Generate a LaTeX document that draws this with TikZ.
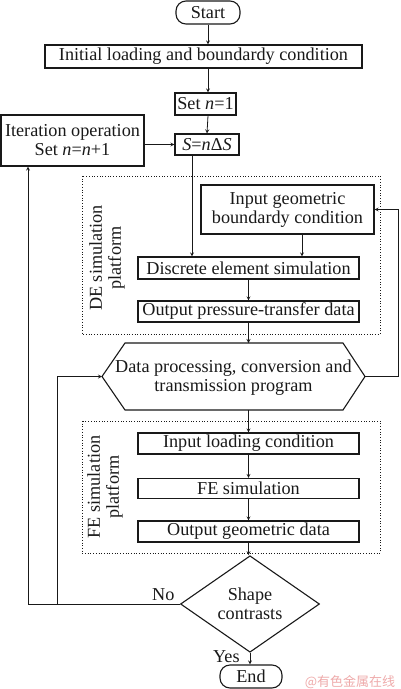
\documentclass[tikz,border=0pt]{standalone}
\usepackage{fontspec}
\setmainfont{Liberation Serif}
\newfontfamily\cjk{Noto Sans CJK SC}
\usepackage{xcolor}
\definecolor{ink}{RGB}{25,25,25}
\definecolor{wmark}{RGB}{238,170,170}
\usepackage{tikz}
\usetikzlibrary{shapes,arrows,positioning,calc}
\usetikzlibrary{shapes.geometric}

\begin{document}
\begin{tikzpicture}[x=1pt,y=-1pt,>=stealth,
        every node/.style={font=\fontsize{18.2}{19}\selectfont, inner sep=0pt, text=ink},
        box/.style={draw=ink, line width=1.1pt, minimum height=22pt, align=center},
        term/.style={box, rounded corners=10pt},
        arr/.style={draw=ink, line width=0.8pt, ->},
        line/.style={draw=ink, line width=0.8pt},
        platform/.style={draw=ink, dotted, line width=0.7pt}]
    \useasboundingbox (0,0) rectangle (400,689);

    % main column
    \node[term, minimum width=64pt, minimum height=23pt] (start) at (208,12.5) {Start};
    \node[box, minimum width=317pt, minimum height=23pt] (init) at (203.5,56.5) {Initial loading and boundardy condition};
    \node[box, minimum width=61pt] (setn) at (205.5,104) {Set \textit{n}=1};
    \node[box, minimum width=64pt, minimum height=21pt] (sval) at (207,144.5) {\textit{S}=\textit{n}Δ\textit{S}};
    \node[box, minimum width=143pt, minimum height=51pt] (iter) at (72.5,140.5) {Iteration operation\\Set \textit{n}=\textit{n}+1};

    % DE platform
    \draw[platform] (82,176) rectangle (380,334);
    \node[rotate=90, align=center] (delabel) at (107,258) {DE simulation\\platform};
    \node[box, minimum width=173pt, minimum height=49pt] (geo) at (287.5,209.5) {Input geometric\\boundardy condition};
    \node[box, minimum width=221pt] (discrete) at (248.5,268) {Discrete element simulation};
    \node[box, minimum width=221pt, minimum height=21pt] (outp) at (248.5,311.5) {Output pressure-transfer data};

    % hexagon for data exchange
    \coordinate (dataW) at (102,376.5);
    \coordinate (dataE) at (365,376.5);
    \coordinate (dataN) at (233.5,343);
    \coordinate (dataS) at (233.5,410);
    \draw[draw=ink, line width=1.1pt] (dataW) -- (125,343) -- (343,343) -- (dataE) -- (343,410) -- (125,410) -- cycle;
    \node[align=center] (data) at (233.5,378) {Data processing, conversion and\\transmission program};

    % FE platform
    \draw[platform] (82,421) rectangle (380,553);
    \node[rotate=90, align=center] (felabel) at (105,487) {FE simulation\\platform};
    \node[box, minimum width=221pt, minimum height=21pt] (inload) at (248.5,443.5) {Input loading condition};
    \node[box, minimum width=221pt, minimum height=20pt] (fesim) at (248.5,488.5) {FE simulation};
    \node[box, minimum width=221pt, minimum height=21pt] (outgeo) at (248.5,531.5) {Output geometric data};

    \node[draw=ink, line width=1.1pt, diamond, minimum width=139pt, minimum height=81pt, align=center] (dec) at (250,604) {Shape\\contrasts};
    \node[term, minimum width=62pt, minimum height=23pt] (stop) at (251,676.5) {End};

    \node[text=wmark, font=\cjk\fontsize{13}{13}\selectfont] (wm) at (350,682) {@有色金属在线};

    \coordinate (loopL) at (28,604);
    \coordinate (loopM) at (57,604);

    % connectors
    \draw[arr] (start.south) -- (start.south |- init.north);
    \draw[arr] (start.south |- init.south) -- (start.south |- setn.north);
    \draw[arr] (start.south |- setn.south) -- (sval.north);
    \draw[arr] (iter.east |- sval.west) -- (sval.west);
    \draw[arr] ([xshift=-15pt]sval.south) -- ([xshift=-15pt]sval.south |- discrete.north);
    \draw[arr] ([xshift=14.5pt]geo.south) -- ([xshift=14.5pt]geo.south |- discrete.north);
    \draw[arr] (discrete.south) -- (outp.north);
    \draw[arr] (outp.south) -- (outp.south |- dataN);
    \draw[arr] (inload.north |- dataS) -- (inload.north);
    \draw[arr] (inload.south) -- (fesim.north);
    \draw[arr] (fesim.south) -- (outgeo.north);
    \draw[arr] (outgeo.south) -- (outgeo.south |- dec.north);
    \draw[arr] (dec.south) -- node[left=10pt, pos=0.35] {Yes} (dec.south |- stop.north);
    \draw[arr] (dataE) -- ++(33.5,0) |- (geo.east);
    \draw[line] (dec.west) -- node[above=3pt, pos=0.11] {No} (loopL);
    \draw[arr] (loopL) -- (loopL |- iter.south);
    \draw[arr] (loopM) |- (dataW);
\end{tikzpicture}
\end{document}
